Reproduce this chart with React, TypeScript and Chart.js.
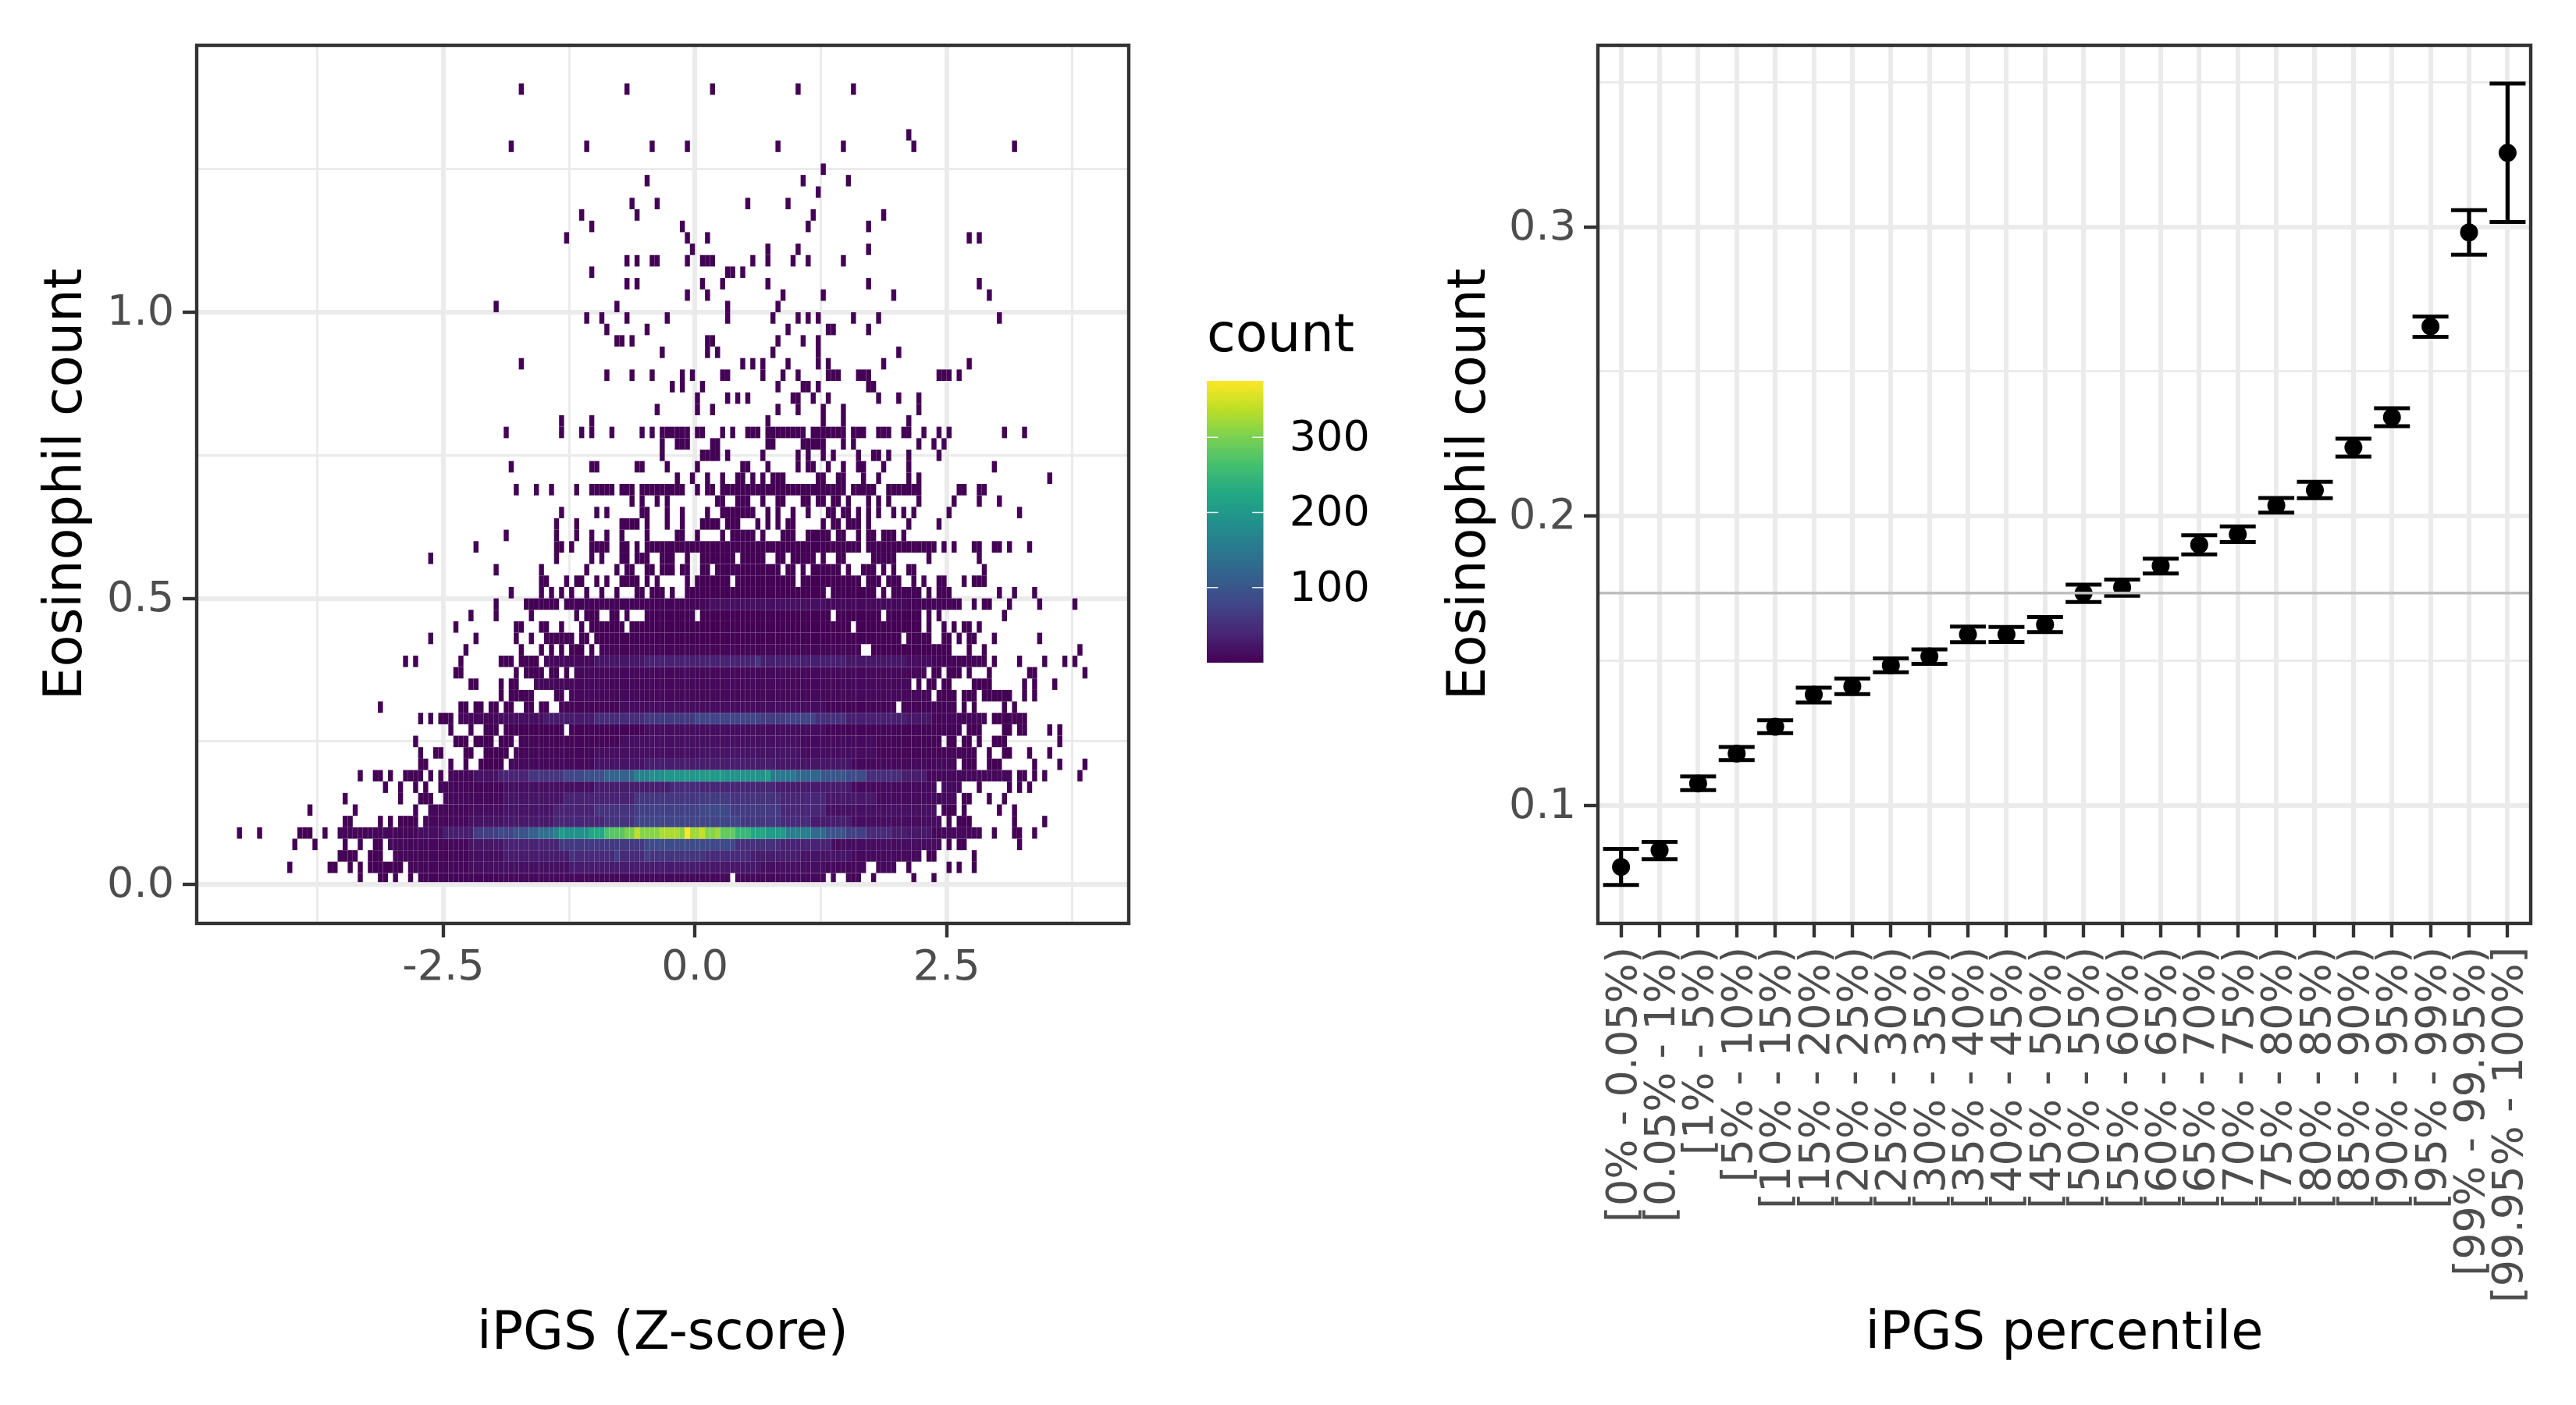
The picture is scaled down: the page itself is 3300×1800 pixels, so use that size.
import React, { useEffect, useRef } from "react";
import { Chart, registerables } from "chart.js";

Chart.register(...registerables);

const FONT = "'DejaVu Sans', sans-serif";
const AXIS_GREY = "#333333";
const GRID = "#EBEBEB";
const TEXT_GREY = "#4D4D4D";

// ---- left panel: 2-D histogram. Each row lists occupied columns (single index or [from, to]).
const binWidth = 0.05;
const rowStep = 0.02;
type Span = number | number[];
const row00: Span[] = [-67, [-63, -62], -60, -57, [-55, 6], [8, 25], 27, [30, 32], 35, 43, 47];
const row01: Span[] = [-81, [-73, -72], -69, -67, [-65, -59], [-57, 33], [36, 39], 42, 50, 52, 55];
const row02: Span[] = [[-71, -68], [-65, -63], [-60, 44], [46, 47], 55];
const row03: Span[] = [-80, -76, -70, -67, [-64, -63], [-61, 48], 50, [52, 53], 64];
const row04: Span[] = [-91, -87, [-79, -77], -74, [-71, 56], 59, [63, 64], 67];
const row05: Span[] = [[-70, -69], -63, -61, [-59, -56], [-54, 48], 50, [52, 54], 63, 69];
const row06: Span[] = [-77, -68, -56, [-53, 47], [49, 51], 53, 60, 63];
const row07: Span[] = [-70, -59, [-55, -53], [-50, 51], [53, 54], 58, 61];
const row08: Span[] = [-62, -59, -56, -54, [-51, 47], [49, 52], 56, 62, 64, 66];
const row09: Span[] = [-67, [-64, -63], -61, [-58, -55], -53, -51, [-49, 62], [64, 65], 67, 69, 76];
const row10: Span[] = [[-55, -54], -49, -46, [-43, -39], [-37, 51], [53, 55], [58, 60], 67, 72, 77];
const row11: Span[] = [-55, [-52, -51], [-46, -45], [-42, -38], [-36, 55], 58, [61, 62], 66, 70];
const row12: Span[] = [-56, [-48, -46], [-44, -41], [-39, -37], [-35, 48], [50, 51], [53, 54], 56, [59, 61], 72];
const row13: Span[] = [-49, -45, [-42, -40], [-38, -27], [-25, 52], [54, 56], [61, 62], [64, 65], 70, 72];
const row14: Span[] = [-55, -53, [-51, -49], [-47, 57], [59, 65]];
const row15: Span[] = [-63, [-47, -46], [-44, -43], [-41, -40], [-38, -37], [-34, -33], [-31, -30], [-27, 39], [41, 51], 53, 55, 61, 63];
const row16: Span[] = [-39, [-37, -33], [-28, -27], [-25, 46], [48, 51], [53, 55], [57, 62], 65, 67];
const row17: Span[] = [[-45, -44], -39, [-37, -36], [-32, 42], 44, [46, 47], [49, 50], [55, 58], 65, 67, 71];
const row18: Span[] = [[-48, -47], -36, [-34, -31], [-29, -28], -26, [-24, 45], [47, 48], [50, 52], 54, 58, [66, 67], 77];
const row19: Span[] = [-58, -56, -47, [-39, -37], [-35, -32], [-30, 57], 59, 64, 69, 73, 75];
const row20: Span[] = [-46, -35, -31, -29, -27, [-25, -23], -21, [-19, 32], [35, 50], 54, 57, 76];
const row21: Span[] = [-53, -44, -36, -33, [-30, -25], [-23, -22], [-20, 40], [42, 46], [49, 50], 52, [54, 55], 59, 68];
const row22: Span[] = [-48, [-36, -35], [-31, -30], -27, -23, [-21, -15], [-13, 30], [32, 44], 46, 49, 51, [53, 54], 56];
const row23: Span[] = [-45, -40, -33, -24, [-22, -20], [-17, -16], -14, [-10, -1], [1, 26], [28, 36], [38, 44], 46, 48, 61];
const row24: Span[] = [-40, [-34, -28], [-26, 52], 55, [57, 58], 62, 68, 75];
const row25: Span[] = [-37, -31, -29, -27, -25, -22, -19, -16, [-12, -11], [-9, -7], -5, [-2, 25], [27, 35], 37, [39, 44], 46, [48, 50], 60, 63, 67];
const row26: Span[] = [[-31, -30], -26, [-24, -23], -20, -18, [-15, -12], -10, -8, -2, [0, 6], [8, 19], [21, 32], [34, 36], [38, 40], 43, 45, [48, 49], 53, [55, 57]];
const row27: Span[] = [-40, -31, -22, -16, [-14, -13], [-10, -9], [-7, -5], [-3, -2], [1, 2], [4, 16], [18, 19], 21, [23, 28], 30, [33, 35], 37, 39, [42, 43], 57];
const row28: Span[] = [-53, -28, -21, -19, [-15, -14], [-12, -10], [-7, -5], -2, [1, 7], [9, 13], [16, 17], [19, 23], 25, [28, 29], [35, 39], 46, 56];
const row29: Span[] = [-44, [-28, -27], -25, [-21, -18], [-15, -14], -12, [-10, 32], [34, 47], 49, 51, [55, 56], [59, 60], 62, 66];
const row30: Span[] = [-38, -28, -24, -21, -18, -15, -10, [-4, -3], 0, 5, [7, 11], 13, [17, 19], [22, 26], [28, 29], 32, [34, 35], [37, 39], 41];
const row31: Span[] = [-28, -24, [-15, -12], -10, -6, -3, [1, 4], [6, 8], 12, 14, 16, [18, 19], 25, [27, 28], [30, 32], 34, 42, 48];
const row32: Span[] = [-27, -20, -18, [-11, -10], -6, -3, 2, [5, 11], 14, 16, 19, 22, [26, 27], [29, 30], 32, 34, 36, 39, 41, 43, 50, 64];
const row33: Span[] = [-13, -11, -8, -6, [4, 5], [8, 10], 13, [16, 17], [21, 22], [24, 25], [27, 28], 30, 34, 36, 38, 44, 51, 56, 60];
const row34: Span[] = [-36, -32, -29, -24, [-21, -17], [-15, -13], [-11, -3], 0, [2, 3], [5, 29], [31, 35], [38, 44], [52, 53], [56, 57]];
const row35: Span[] = [-4, -1, 2, 5, [8, 9], 11, 13, [15, 17], [24, 25], [28, 29], 33, 36, 42, 44, 70];
const row36: Span[] = [-37, [-21, -20], [-12, -11], -6, 0, [9, 10], 14, 20, [22, 23], 26, 29, [32, 33], 37, 42, 59];
const row37: Span[] = [-7, [1, 4], 6, 13, 20, 22, 25, 27, 32, [35, 36], 38, 42, 48];
const row38: Span[] = [-7, [-4, -2], [3, 4], [14, 15], [21, 25], 29, 31, 44, 47, 49];
const row39: Span[] = [-38, -27, -23, -21, -17, -11, -9, [-7, -2], [0, 1], 5, 7, [10, 12], [14, 21], [23, 29], [31, 33], [36, 38], [41, 42], 45, 48, 50, 61, 65];
const row40: Span[] = [-27, -21, 14, 25, 29, 42];
const row41: Span[] = [-8, 0, 3, 16, 20, 25, 29, 44];
const row42: Span[] = [0, 6, 8, 10, [19, 20], 23, 26, 36, 40, 44];
const row43: Span[] = [-5, -3, 1, 16, [21, 22], 24, [34, 35]];
const row44: Span[] = [-18, -13, -9, -3, -1, [5, 6], 13, 17, 20, [26, 28], [32, 34], [48, 50], 52];
const row45: Span[] = [-35, 9, 11, 13, 18, 24, 26, 37, 54];
const row46: Span[] = [-7, 2, 4, 15, 24, 40];
const row47: Span[] = [[-16, -15], -13, [2, 3], 16, 21, 24];
const row48: Span[] = [-18, -10, 18, [26, 27], 34];
const row49: Span[] = [-22, -19, -14, -6, 6, 15, 20, 22, 24, 31, 36, 60];
const row50: Span[] = [-40, -16, 6, 16];
const row51: Span[] = [-2, 2, 17, 25, 39, 58];
const row52: Span[] = [-14, -12, 1, 5, 14, 34, 56];
const row53: Span[] = [-21, [6, 7], 9];
const row54: Span[] = [-14, -12, [-9, -8], -2, [1, 3], 11, 14, 19, 22, 29];
const row55: Span[] = [-1, 14, 20, 34];
const row56: Span[] = [-26, -2, 2, 54, 56];
const row57: Span[] = [-21, -3, 22, 34];
const row58: Span[] = [-23, -12, 23, 37];
const row59: Span[] = [-13, -8, 10, 18];
const row60: Span[] = [24];
const row61: Span[] = [-10, 21, 30];
const row62: Span[] = [25];
const row63: Span[] = [];
const row64: Span[] = [-37, -22, -9, -2, 16, 29, 43, 63];
const row65: Span[] = [42];
const row66: Span[] = [];
const row67: Span[] = [];
const row68: Span[] = [];
const row69: Span[] = [-35, -14, 3, 20, 31];
const occupiedRows = [row00, row01, row02, row03, row04, row05, row06, row07, row08, row09, row10, row11, row12, row13, row14, row15, row16, row17, row18, row19, row20, row21, row22, row23, row24, row25, row26, row27, row28, row29, row30, row31, row32, row33, row34, row35, row36, row37, row38, row39, row40, row41, row42, row43, row44, row45, row46, row47, row48, row49, row50, row51, row52, row53, row54, row55, row56, row57, row58, row59, row60, row61, row62, row63, row64, row65, row66, row67, row68, row69];

// counts: [from column, to column, count]
const count00 = [[-55, -40, 4], [-39, 30, 9]];
const count01 = [[-57, -46, 6], [-45, -39, 14], [-38, -26, 16], [-25, 0, 28], [1, 12, 25], [13, 25, 15], [26, 39, 8]];
const count02 = [[-60, -46, 6], [-45, -39, 14], [-38, -26, 28], [-25, -25, 55], [-24, -17, 45], [-16, -16, 70], [-15, -11, 45], [-10, -10, 70], [-9, 1, 56], [2, 10, 45], [11, 20, 30], [21, 30, 20], [31, 44, 10]];
const count03 = [[-61, -46, 8], [-45, -39, 22], [-38, -28, 35], [-27, -11, 62], [-10, 1, 85], [2, 7, 80], [8, 16, 50], [17, 26, 35], [27, 48, 12]];
const count04 = [[-71, -56, 6], [-55, -51, 14], [-50, -45, 32], [-44, -40, 68], [-39, -39, 88], [-38, -37, 76], [-36, -34, 95], [-33, -32, 115], [-31, -29, 138], [-28, -28, 168], [-27, -27, 205], [-26, -22, 190], [-21, -19, 225], [-18, -18, 265], [-17, -15, 278], [-14, -13, 300], [-12, -12, 340], [-11, -8, 308], [-7, -4, 328], [-3, -3, 310], [-2, -2, 374], [-1, 0, 322], [1, 1, 342], [2, 3, 305], [4, 4, 320], [5, 7, 285], [8, 10, 250], [11, 13, 225], [14, 17, 205], [18, 22, 160], [23, 25, 130], [26, 29, 95], [30, 33, 70], [34, 38, 45], [39, 41, 30], [42, 46, 24], [47, 56, 8]];
const count05 = [[-54, -46, 8], [-45, -39, 18], [-38, -29, 25], [-28, -19, 40], [-18, -13, 55], [-12, 1, 75], [2, 8, 74], [9, 16, 60], [17, 22, 45], [23, 30, 28], [31, 48, 12]];
const count06 = [[-53, -46, 6], [-45, -39, 12], [-38, -29, 20], [-28, -21, 35], [-20, -13, 55], [-12, 0, 70], [1, 6, 80], [7, 16, 64], [17, 25, 40], [26, 47, 16]];
const count07 = [[-50, -39, 8], [-38, -27, 20], [-26, -13, 35], [-12, 0, 60], [1, 6, 65], [7, 16, 55], [17, 25, 40], [26, 35, 25], [36, 51, 10]];
const count08 = [[-51, -39, 6], [-38, -21, 15], [-20, -6, 30], [-5, 0, 45], [1, 15, 40], [16, 30, 28], [31, 52, 10]];
const count09 = [[-49, -45, 6], [-44, -40, 18], [-39, -34, 36], [-33, -27, 56], [-26, -23, 80], [-22, -19, 92], [-18, -13, 120], [-12, -10, 165], [-9, -7, 185], [-6, 0, 198], [1, 5, 203], [6, 13, 190], [14, 14, 212], [15, 19, 150], [20, 24, 125], [25, 29, 100], [30, 33, 85], [34, 40, 48], [41, 45, 30], [46, 62, 8]];
const count10 = [[-37, -21, 8], [-20, -11, 20], [-10, 15, 30], [16, 30, 22], [31, 51, 9]];
const count11 = [[-36, -21, 6], [-20, 0, 15], [1, 20, 20], [21, 35, 12], [36, 55, 5]];
const count12 = [[-35, -16, 5], [-15, 20, 15], [21, 35, 10], [36, 48, 5]];
const count13 = [[-25, -11, 4], [-10, 25, 12], [26, 52, 4]];
const count14 = [[-47, -40, 6], [-39, -31, 14], [-30, -21, 27], [-20, -11, 48], [-10, -1, 62], [0, 0, 80], [1, 12, 75], [13, 17, 66], [18, 23, 75], [24, 29, 52], [30, 41, 32], [42, 46, 22], [47, 57, 6]];
const count15 = [[-27, -16, 5], [-15, 25, 12], [26, 51, 4]];
const count16 = [[-25, 46, 7]];
const count17 = [[-32, 42, 7]];
const count18 = [[-24, 45, 7]];
const count19 = [[-30, -21, 8], [-20, -11, 22], [-10, 0, 34], [1, 11, 36], [12, 12, 60], [13, 29, 32], [30, 41, 22], [42, 46, 12], [47, 57, 4]];
const count20 = [[-19, 32, 5]];
const count24 = [[-26, 0, 4], [1, 2, 8], [3, 25, 15], [26, 41, 9], [42, 52, 4]];
const rowCounts: Record<number, number[][]> = { 0: count00, 1: count01, 2: count02, 3: count03, 4: count04, 5: count05, 6: count06, 7: count07, 8: count08, 9: count09, 10: count10, 11: count11, 12: count12, 13: count13, 14: count14, 15: count15, 16: count16, 17: count17, 18: count18, 19: count19, 20: count20, 24: count24 };

const leftXTicks = [-3.75, -2.5, -1.25, 0, 1.25, 2.5, 3.75];
const leftXLabelled = [-2.5, 0, 2.5];
const leftYTicks = [0, 0.25, 0.5, 0.75, 1, 1.25];
const leftYLabelled = [0, 0.5, 1];
const legendTicks = [100, 200, 300];
const countMin = 0;
const countMax = 375;
const viridis = ["#440154", "#482475", "#414487", "#355f8d", "#2a788e", "#21918c", "#22a884", "#44bf70", "#7ad151", "#bddf26", "#fde725"];

// ---- right panel: mean and interval by percentile bin
const percentileBins = ["[0% - 0.05%)", "[0.05% - 1%)", "[1% - 5%)", "[5% - 10%)", "[10% - 15%)", "[15% - 20%)", "[20% - 25%)", "[25% - 30%)", "[30% - 35%)", "[35% - 40%)", "[40% - 45%)", "[45% - 50%)", "[50% - 55%)", "[55% - 60%)", "[60% - 65%)", "[65% - 70%)", "[70% - 75%)", "[75% - 80%)", "[80% - 85%)", "[85% - 90%)", "[90% - 95%)", "[95% - 99%)", "[99% - 99.95%)", "[99.95% - 100%]"];
const meanValues = [0.0787, 0.0845, 0.1076, 0.1179, 0.1272, 0.1383, 0.1412, 0.1484, 0.1515, 0.1591, 0.1591, 0.1625, 0.1734, 0.1754, 0.1828, 0.1901, 0.1937, 0.2037, 0.209, 0.2238, 0.2342, 0.2656, 0.2981, 0.3256];
const lowerValues = [0.0725, 0.0814, 0.1053, 0.1157, 0.125, 0.1356, 0.1385, 0.146, 0.1489, 0.1564, 0.1565, 0.1599, 0.1703, 0.1725, 0.1802, 0.1868, 0.191, 0.2012, 0.2062, 0.2206, 0.2311, 0.262, 0.2904, 0.3017];
const upperValues = [0.085, 0.0874, 0.11, 0.1202, 0.1294, 0.1407, 0.1439, 0.1508, 0.1539, 0.1618, 0.1617, 0.1651, 0.1763, 0.1781, 0.1853, 0.1934, 0.1964, 0.2063, 0.2119, 0.2268, 0.2373, 0.269, 0.3058, 0.3496];
const referenceLevel = 0.1734;
const rightYTicks = [0.1, 0.15, 0.2, 0.25, 0.3, 0.35];
const rightYLabelled = [0.1, 0.2, 0.3];

function hexToRgb(h: string) {
  return [parseInt(h.slice(1, 3), 16), parseInt(h.slice(3, 5), 16), parseInt(h.slice(5, 7), 16)];
}
function countColor(v: number) {
  const t = Math.max(0, Math.min(1, (v - countMin) / (countMax - countMin))) * (viridis.length - 1);
  const i = Math.min(viridis.length - 2, Math.floor(t));
  const a = hexToRgb(viridis[i]);
  const b = hexToRgb(viridis[i + 1]);
  const f = t - i;
  return `rgb(${a.map((x, j) => Math.round(x + (b[j] - x) * f)).join(",")})`;
}
function cellCount(row: number, col: number) {
  const levels = rowCounts[row];
  if (levels) for (const [a, b, n] of levels) if (col >= a && col <= b) return n;
  return 1;
}
function buildCells() {
  const out: { x: number; y: number[]; n: number }[] = [];
  occupiedRows.forEach((spans, row) => {
    for (const s of spans) {
      const [a, b] = Array.isArray(s) ? s : [s, s];
      for (let c = a; c <= b; c++) {
        out.push({ x: (c + 0.5) * binWidth, y: [row * rowStep, (row + 1) * rowStep], n: cellCount(row, c) });
      }
    }
  });
  return out;
}

const includes = (list: number[], v: number) => list.some((x) => Math.abs(x - v) < 1e-9);

const framePlugin = {
  id: "panelFrame",
  afterDatasetsDraw(chart: any) {
    const a = chart.chartArea;
    const ctx = chart.ctx;
    ctx.save();
    const ref = chart.options.plugins.panelFrame?.level;
    if (ref !== undefined) {
      const y = chart.scales.y.getPixelForValue(ref);
      ctx.strokeStyle = "#BEBEBE";
      ctx.lineWidth = 3.5;
      ctx.beginPath();
      ctx.moveTo(a.left, y);
      ctx.lineTo(a.right, y);
      ctx.stroke();
    }
    ctx.strokeStyle = AXIS_GREY;
    ctx.lineWidth = 4.4;
    ctx.strokeRect(a.left, a.top, a.right - a.left, a.bottom - a.top);
    ctx.restore();
  },
};

const legendTickPlugin = {
  id: "legendTicks",
  afterDatasetsDraw(chart: any) {
    const a = chart.chartArea;
    const ctx = chart.ctx;
    ctx.save();
    ctx.strokeStyle = "rgba(255,255,255,0.9)";
    ctx.lineWidth = 1.6;
    for (const t of legendTicks) {
      const y = chart.scales.y.getPixelForValue(t);
      ctx.beginPath();
      ctx.moveTo(a.left, y);
      ctx.lineTo(a.left + 14.5, y);
      ctx.moveTo(a.right - 14.5, y);
      ctx.lineTo(a.right, y);
      ctx.stroke();
    }
    ctx.restore();
  },
};

function axis(opts: {
  min: number; max: number; ticks: number[]; labelled: number[];
  label: (v: number) => string; title: string; size: number; vertical: boolean;
  titlePad: any; tickPad: number; rotation?: number; labelOffset?: number;
}) {
  return {
    type: "linear",
    offset: false,
    min: opts.min,
    max: opts.max,
    afterBuildTicks(s: any) {
      s.ticks = opts.ticks.map((value) => ({ value }));
    },
    afterFit(s: any) {
      if (opts.vertical) s.width = opts.size;
      else s.height = opts.size;
    },
    grid: {
      offset: false,
      color: GRID,
      lineWidth: (c: any) => (includes(opts.labelled, c.tick.value) ? 6 : 3),
      tickColor: (c: any) => (includes(opts.labelled, c.tick.value) ? AXIS_GREY : "transparent"),
      tickWidth: 4.4,
      tickLength: 18,
      drawTicks: true,
    },
    border: { display: false },
    ticks: {
      autoSkip: false,
      color: TEXT_GREY,
      font: { family: FONT, size: 54 },
      padding: opts.tickPad,
      labelOffset: opts.labelOffset ?? 0,
      minRotation: opts.rotation ?? 0,
      maxRotation: opts.rotation ?? 0,
      callback: (v: number) => (includes(opts.labelled, v) ? opts.label(v) : ""),
    },
    title: {
      display: true,
      text: opts.title,
      color: "#000000",
      font: { family: FONT, size: 67, lineHeight: 1.2 },
      padding: opts.titlePad,
    },
  };
}

export default function App() {
  const leftRef = useRef<HTMLCanvasElement>(null);
  const legendRef = useRef<HTMLCanvasElement>(null);
  const rightRef = useRef<HTMLCanvasElement>(null);

  useEffect(() => {
    document.body.style.margin = "0";
    const common = {
      responsive: false,
      animation: false,
      devicePixelRatio: 1,
      events: [],
    };
    const left = new Chart(leftRef.current!, {
      type: "bar",
      data: {
        datasets: [
          {
            data: buildCells(),
            backgroundColor: (c: any) => countColor(c.raw?.n ?? 1),
            borderWidth: 0,
            barThickness: 6.445,
            grouped: false,
            inflateAmount: 0,
          } as any,
        ],
      },
      plugins: [framePlugin],
      options: {
        ...common,
        layout: { padding: { top: 58, right: 34, bottom: 0, left: 0 } },
        plugins: { legend: { display: false }, tooltip: { enabled: false } },
        scales: {
          x: axis({ min: -4.95, max: 4.31, ticks: leftXTicks, labelled: leftXLabelled, label: (v) => v.toFixed(1), title: "iPGS (Z-score)", size: 617, vertical: false, titlePad: { top: 0, bottom: 49 }, tickPad: 8 }),
          y: axis({ min: -0.068, max: 1.4666, ticks: leftYTicks, labelled: leftYLabelled, label: (v) => v.toFixed(1), title: "Eosinophil count", size: 252, vertical: true, titlePad: { top: 46, bottom: 0 }, tickPad: 11, labelOffset: 2 }),
        },
      } as any,
    });

    const legend = new Chart(legendRef.current!, {
      type: "bar",
      data: {
        labels: ["count"],
        datasets: [
          {
            data: [[countMin, countMax]],
            backgroundColor: (c: any) => {
              const area = c.chart.chartArea;
              if (!area) return viridis[0];
              const g = c.chart.ctx.createLinearGradient(0, area.bottom, 0, area.top);
              viridis.forEach((col, i) => g.addColorStop(i / (viridis.length - 1), col));
              return g;
            },
            borderWidth: 0,
            barPercentage: 1,
            categoryPercentage: 1,
            inflateAmount: 0,
          } as any,
        ],
      },
      plugins: [legendTickPlugin],
      options: {
        ...common,
        layout: { padding: { top: 399, right: 0, bottom: 51, left: 66 } },
        plugins: {
          legend: { display: false },
          tooltip: { enabled: false },
          title: {
            display: true,
            text: "count",
            align: "start",
            color: "#000000",
            font: { family: FONT, size: 67, weight: "normal", lineHeight: 1 },
            padding: { top: 0, bottom: 22 },
          },
        },
        scales: {
          x: { display: false },
          y: {
            position: "right",
            min: countMin,
            max: countMax,
            afterBuildTicks(s: any) {
              s.ticks = legendTicks.map((value) => ({ value }));
            },
            afterFit(s: any) {
              s.width = 1800 - 1480 - 138.7;
              s.paddingTop = 0;
              s.paddingBottom = 0;
            },
            grid: { display: false },
            border: { display: false },
            ticks: { color: "#000000", font: { family: FONT, size: 54 }, padding: 25, labelOffset: 3 },
          },
        },
      } as any,
    });

    const idx = percentileBins.map((_, i) => i);
    const right = new Chart(rightRef.current!, {
      type: "scatter",
      data: {
        datasets: [
          {
            type: "bar",
            data: idx.map((i) => ({ x: i, y: [lowerValues[i], upperValues[i]] })),
            backgroundColor: "#000000",
            borderWidth: 0,
            barThickness: 5.2,
            grouped: false,
            inflateAmount: 0,
            order: 3,
          },
          {
            data: idx.map((i) => ({ x: i, y: lowerValues[i] })),
            pointStyle: "line",
            pointRadius: 23,
            pointBorderWidth: 5,
            pointBorderColor: "#000000",
            order: 2,
          },
          {
            data: idx.map((i) => ({ x: i, y: upperValues[i] })),
            pointStyle: "line",
            pointRadius: 23,
            pointBorderWidth: 5,
            pointBorderColor: "#000000",
            order: 2,
          },
          {
            data: idx.map((i) => ({ x: i, y: meanValues[i] })),
            pointStyle: "circle",
            pointRadius: 11.5,
            pointBorderWidth: 0,
            pointBackgroundColor: "#000000",
            order: 1,
          },
        ] as any,
      },
      plugins: [framePlugin],
      options: {
        ...common,
        layout: { padding: { top: 58, right: 58, bottom: 0, left: 0 } },
        plugins: { legend: { display: false }, tooltip: { enabled: false }, panelFrame: { level: referenceLevel } },
        scales: {
          x: axis({ min: -0.6, max: 23.6, ticks: idx, labelled: idx, label: (v) => percentileBins[Math.round(v)], title: "iPGS percentile", size: 617, vertical: false, titlePad: { top: 0, bottom: 49 }, tickPad: 12, rotation: 90, labelOffset: 5 }),
          y: axis({ min: 0.0592, max: 0.3628, ticks: rightYTicks, labelled: rightYLabelled, label: (v) => v.toFixed(1), title: "Eosinophil count", size: 247, vertical: true, titlePad: { top: 44, bottom: 0 }, tickPad: 10, labelOffset: 2 }),
        },
      } as any,
    });

    return () => {
      left.destroy();
      legend.destroy();
      right.destroy();
    };
  }, []);

  const base: React.CSSProperties = { position: "absolute", top: 0, display: "block" };
  return (
    <div style={{ position: "absolute", left: 0, top: 0, width: 3300, height: 1800, background: "#ffffff", overflow: "hidden" }}>
      <canvas ref={leftRef} width={1480} height={1800} style={{ ...base, left: 0, width: 1480, height: 1800 }} />
      <canvas ref={legendRef} width={320} height={900} style={{ ...base, left: 1480, width: 320, height: 900 }} />
      <canvas ref={rightRef} width={1500} height={1800} style={{ ...base, left: 1800, width: 1500, height: 1800 }} />
    </div>
  );
}
